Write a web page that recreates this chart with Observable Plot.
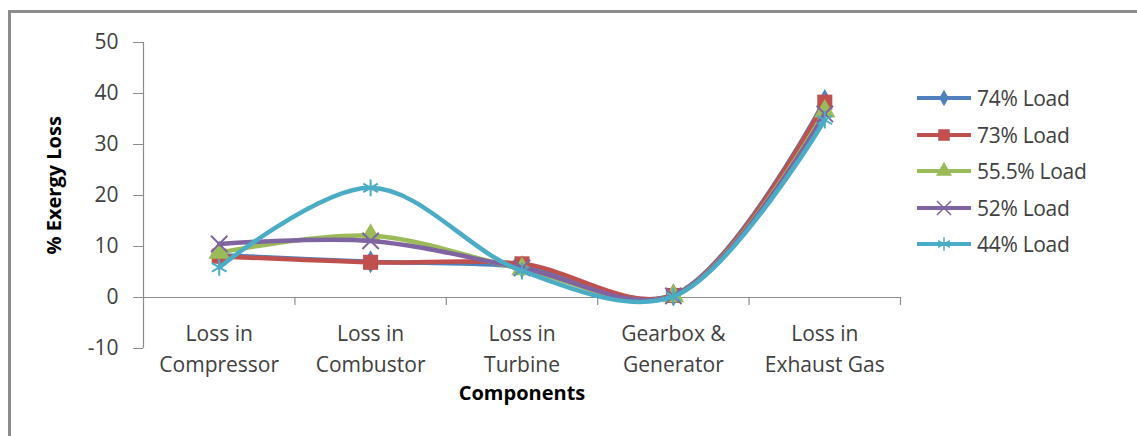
<!DOCTYPE html>
<html>
<head>
<meta charset="utf-8">
<script src="https://cdn.jsdelivr.net/npm/d3@7"></script>
<script src="https://cdn.jsdelivr.net/npm/@observablehq/plot@0.6"></script>
<style>
  html, body { margin: 0; padding: 0; background: #fff; }
  #wrap { position: relative; width: 1137px; height: 436px; overflow: hidden; font-family: "Open Sans", Lato, sans-serif; }
  #border { position: absolute; left: 8px; top: 10px; width: 1200px; height: 500px; border: 3px solid #8c8c8c; box-sizing: border-box; }
  #chart { position: absolute; left: 0; top: 0; }
  #legend { position: absolute; left: 915px; top: 80px; }
  .row { display: flex; align-items: center; height: 36.5px; font-size: 21px; color: #404040; letter-spacing: -0.3px; }
  .row svg { margin-right: 4px; }
</style>
</head>
<body>
<div id="wrap">
  <div id="border"></div>
  <div id="chart"></div>
  <div id="legend"></div>
</div>
<script>
const categories = ["Loss in\nCompressor", "Loss in\nCombustor", "Loss in\nTurbine", "Gearbox &\nGenerator", "Loss in\nExhaust Gas"];
const seriesNames = ["74% Load", "73% Load", "55.5% Load", "52% Load", "44% Load"];
const load74 = [8.3, 7.0, 6.0, 0.5, 38.6];
const load73 = [8.1, 6.9, 6.6, 0.4, 38.3];
const load55 = [8.8, 12.1, 5.6, 0.3, 36.5];
const load52 = [10.5, 11.1, 5.8, 0.3, 36.0];
const load44 = [5.9, 21.5, 5.2, 0.2, 34.8];
const yTicks = [-10, 0, 10, 20, 30, 40, 50];

const seriesValues = [load74, load73, load55, load52, load44];
const colors = ["#4F81BD", "#C0504D", "#9BBB59", "#8064A2", "#4BACC6"];
const symbols = ["diamond", "square", "triangle", "times", "asterisk"];
const sizes = [7, 8.5, 8, 7.5, 8];
const legendSizes = [5, 6.5, 6, 6.5, 6.5];
const strokeOnly = [false, false, false, true, true];

const data = [];
seriesNames.forEach((s, si) => seriesValues[si].forEach((v, i) => data.push({series: s, idx: i, value: v})));
const boundaries = d3.range(categories.length + 1).map(i => i - 0.5);
const font = "'Open Sans', Lato, sans-serif";

const marks = [
  Plot.ruleX([-0.5], {y1: -10, y2: 50, stroke: "#8c8c8c", strokeWidth: 1.2}),
  Plot.ruleY([0], {x1: -0.5, x2: categories.length - 0.5, stroke: "#8c8c8c", strokeWidth: 1.2}),
  Plot.ruleX(boundaries.slice(1), {y1: 0, y2: 0, insetBottom: -8, stroke: "#8c8c8c", strokeWidth: 1.2}),
  Plot.axisY({ticks: yTicks, tickSize: 10, tickPadding: 15, tickFormat: d => String(d), stroke: "#8c8c8c", fontSize: 21, color: "#404040", label: null}),
  Plot.text(categories, {x: (d, i) => i, y: 0, dy: 22, lineAnchor: "top", lineHeight: 1.45, fontSize: 21, fill: "#404040", text: d => d}),
  Plot.text(["Components"], {x: 2, y: -10, dy: 45, fontSize: 20, fontWeight: "bold", fill: "#000"}),
  Plot.text(["% Exergy Loss"], {x: -0.5, y: 22, dx: -89, rotate: -90, fontSize: 20, fontWeight: "bold", fill: "#000"})
];
seriesNames.forEach((s, si) => {
  const d = data.filter(r => r.series === s);
  marks.push(Plot.line(d, {x: "idx", y: "value", stroke: colors[si], strokeWidth: 4.5, curve: "catmull-rom"}));
  marks.push(Plot.dot(d, {x: "idx", y: "value", symbol: () => symbols[si], r: sizes[si],
    fill: strokeOnly[si] ? "none" : colors[si], stroke: strokeOnly[si] ? colors[si] : "none", strokeWidth: 2}));
});

const chart = Plot.plot({
  width: 1137, height: 436,
  marginLeft: 143, marginRight: 237, marginTop: 42, marginBottom: 88,
  style: {fontFamily: font, background: "transparent"},
  x: {type: "linear", domain: [-0.5, categories.length - 0.5], axis: null},
  y: {domain: [-10, 50]},
  symbol: {type: "identity"},
  marks
});
document.getElementById("chart").appendChild(chart);

const legend = document.getElementById("legend");
const symMap = {diamond: d3.symbolDiamond, square: d3.symbolSquare, triangle: d3.symbolTriangle, times: d3.symbolTimes, asterisk: d3.symbolAsterisk};
seriesNames.forEach((s, si) => {
  const row = document.createElement("div");
  row.className = "row";
  const svg = d3.create("svg").attr("width", 58).attr("height", 20);
  svg.append("line").attr("x1", 2).attr("x2", 56).attr("y1", 10).attr("y2", 10).attr("stroke", colors[si]).attr("stroke-width", 4);
  const r = legendSizes[si];
  svg.append("path").attr("transform", "translate(29,10)")
    .attr("d", d3.symbol(symMap[symbols[si]], r * r * Math.PI)())
    .attr("fill", strokeOnly[si] ? "none" : colors[si])
    .attr("stroke", strokeOnly[si] ? colors[si] : "none").attr("stroke-width", 1.5);
  row.appendChild(svg.node());
  const t = document.createElement("span");
  t.textContent = s;
  row.appendChild(t);
  legend.appendChild(row);
});
</script>
</body>
</html>
